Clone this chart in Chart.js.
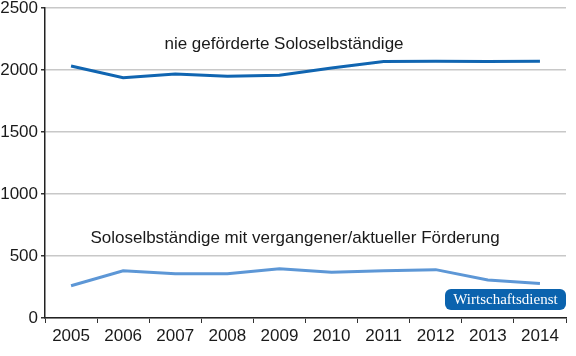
<!DOCTYPE html>
<html><head><meta charset="utf-8">
<script src="https://cdn.jsdelivr.net/npm/chart.js@4/dist/chart.umd.min.js"></script>
<style>html,body{margin:0;padding:0;background:#fff}#wrap{position:relative;width:576px;height:356px}</style>
</head><body>
<div id="wrap"><canvas id="c" width="576" height="356"></canvas></div>
<script>
const years = ["2005","2006","2007","2008","2009","2010","2011","2012","2013","2014"];
const nieGefoerdert = [2032, 1938, 1968, 1949, 1957, 2016, 2068, 2070, 2068, 2070];
const mitFoerderung = [260, 381, 357, 357, 398, 368, 381, 390, 306, 278];
const yTicks = [0, 500, 1000, 1500, 2000, 2500];
const label1 = "nie geförderte Soloselbständige";
const label2 = "Soloselbständige mit vergangener/aktueller Förderung";
const badge = "Wirtschaftsdienst";

const FONT = '"Liberation Sans", Arial, sans-serif';

const annot = {
  id: 'annot',
  afterDatasetsDraw(chart) {
    const ctx = chart.ctx;
    const y = chart.scales.y;
    ctx.save();
    ctx.fillStyle = '#1a1a1a';
    ctx.font = '17px ' + FONT;
    ctx.textAlign = 'center';
    ctx.textBaseline = 'middle';
    ctx.fillText(label1, 284, y.getPixelForValue(2205));
    ctx.fillText(label2, 295, y.getPixelForValue(645));
    // badge
    const bx = 445, by = 289, bw = 121, bh = 21, r = 6;
    ctx.fillStyle = '#0b63ae';
    ctx.beginPath();
    ctx.roundRect(bx, by, bw, bh, r);
    ctx.fill();
    ctx.fillStyle = '#ffffff';
    ctx.font = '15px "Liberation Serif", "DejaVu Serif", serif';
    ctx.fillText(badge, bx + bw / 2, by + bh / 2 + 1);
    ctx.restore();
  }
};

new Chart(document.getElementById('c'), {
  type: 'line',
  data: {
    labels: years,
    datasets: [
      { data: nieGefoerdert, borderColor: '#1065b1', borderWidth: 3, pointRadius: 0, tension: 0, fill: false },
      { data: mitFoerderung, borderColor: '#5d97d6', borderWidth: 3, pointRadius: 0, tension: 0, fill: false }
    ]
  },
  options: {
    responsive: false,
    animation: false,
    events: [],
    layout: { padding: { top: 8, right: 10, left: 0, bottom: 0 } },
    plugins: { legend: { display: false }, tooltip: { enabled: false } },
    scales: {
      x: {
        offset: true,
        afterFit(s) { s.height = 38; s.paddingLeft = 0; s.paddingRight = 0; },
        grid: { drawOnChartArea: false, tickLength: 5, color: '#333', offset: true },
        border: { color: '#222', width: 1.5 },
        ticks: { color: '#1a1a1a', font: { family: FONT, size: 17 }, padding: 3, maxRotation: 0 }
      },
      y: {
        min: 0, max: 2500,
        afterFit(s) { s.width = 45; s.paddingTop = 0; s.paddingBottom = 0; },
        afterBuildTicks(s) { s.ticks = yTicks.map(v => ({ value: v })); },
        grid: { color: '#c8c8c8', lineWidth: 1.5, tickLength: 4, tickColor: '#333' },
        border: { color: '#222', width: 1.5 },
        ticks: { color: '#1a1a1a', font: { family: FONT, size: 17 }, padding: 3, callback: v => String(v) }
      }
    }
  },
  plugins: [annot]
});
</script>
</body></html>
